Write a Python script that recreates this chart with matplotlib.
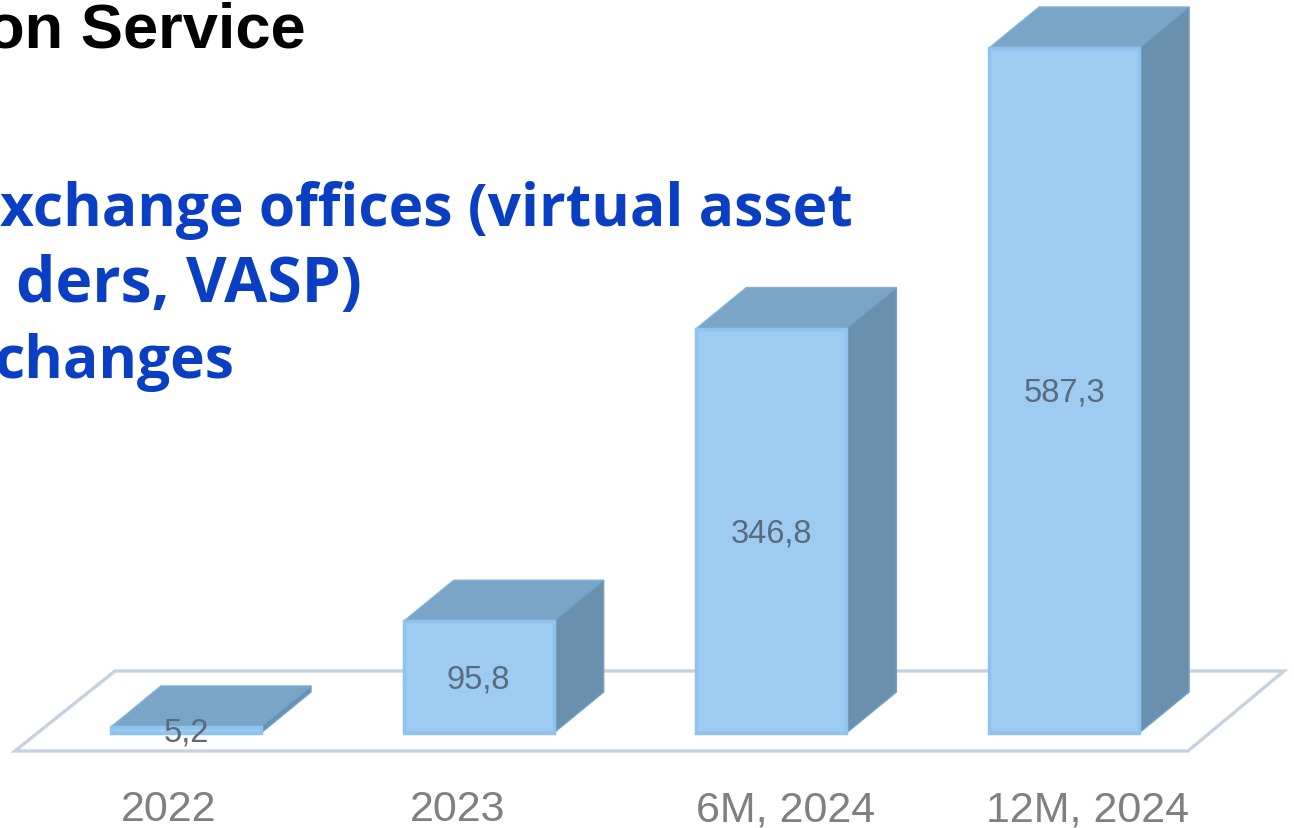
import matplotlib
matplotlib.use("Agg")
import matplotlib.pyplot as plt
from matplotlib.patches import Polygon

categories = ["2022", "2023", "6M, 2024", "12M, 2024"]
values = [5.2, 95.8, 346.8, 587.3]
value_labels = ["5,2", "95,8", "346,8", "587,3"]
title_text = "on Service"
subtitle_lines = ["xchange offices (virtual asset", "ders, VASP)", "changes"]

W, H = 1294, 829
X0, STEP = 186.0, 292.7      # pixel centre of first bar, spacing
Y0, YSCALE = 734.0, 685 / 587.3  # pixel of value 0, pixels per unit
BAR_W = 150 / STEP
DX, DY = 50 / STEP, 41 / YSCALE
TICK_PX = [169, 458, 786, 1087]
SUB_X = [853, 362, 234]
SUB_Y = [226.5, 302.5, 378]
SUB_SIZE = [42.3, 45, 42.3]

FRONT, FRONT_EDGE = "#9DCBF2", "#8DC3EE"
TOP, SIDE = "#7BA5C7", "#6A90AE"
FLOOR = "#C6D2E0"
BLUE = "#0A3FC4"


def px(x, y):
    return ((x - X0) / STEP, (Y0 - y) / YSCALE)


fig = plt.figure(figsize=(W / 100, H / 100), dpi=100, facecolor="white")
ax = fig.add_axes([0, 0, 1, 1])
ax.set_xlim(px(0, 0)[0], px(W, 0)[0])
ax.set_ylim(px(0, H)[1], px(0, 0)[1])
ax.axis("off")

# floor
ax.add_patch(Polygon([px(15, 752), px(1188, 752), px(1284, 672), px(115, 672)],
                     closed=True, facecolor="white", edgecolor=FLOOR, lw=2.4, zorder=1))

# bars
xs = list(range(len(values)))
ax.bar(xs, values, width=BAR_W, color=FRONT, edgecolor=FRONT_EDGE, linewidth=2.5, zorder=3)
for x, v in zip(xs, values):
    l, r = x - BAR_W / 2, x + BAR_W / 2
    ax.add_patch(Polygon([(l, v), (r, v), (r + DX, v + DY), (l + DX, v + DY)],
                         closed=True, facecolor=TOP, edgecolor="#7FB2D8", lw=1.0, zorder=2.5))
    ax.add_patch(Polygon([(r, 0), (r + DX, DY), (r + DX, v + DY), (r, v)],
                         closed=True, facecolor=SIDE, edgecolor="#6FA3C8", lw=1.0, zorder=2.5))

# value labels
for x, v, s in zip(xs, values, value_labels):
    ax.annotate(s, (x, v / 2), xytext=(0, -2), textcoords="offset pixels",
                ha="center", va="center", family="Liberation Sans",
                fontsize=23.5, color="#5B6B7C", zorder=5)

# category labels
for xp, s in zip(TICK_PX, categories):
    ax.text(*px(xp, 821.5), s, ha="center", va="baseline", family="Liberation Sans",
            fontsize=31, color="#808080", zorder=5)

# heading texts, cropped by the left edge as in the reference
ax.text(*px(306, 47.5), title_text, ha="right", va="baseline", family="Liberation Sans",
        fontweight="bold", fontsize=45.5, color="black", zorder=6)
for xp, yp, fs, s in zip(SUB_X, SUB_Y, SUB_SIZE, subtitle_lines):
    ax.text(*px(xp, yp), s, ha="right", va="baseline", family="Open Sans",
            fontweight="bold", fontsize=fs, color=BLUE, zorder=6)

fig.savefig("out.png", dpi=100, facecolor="white")
